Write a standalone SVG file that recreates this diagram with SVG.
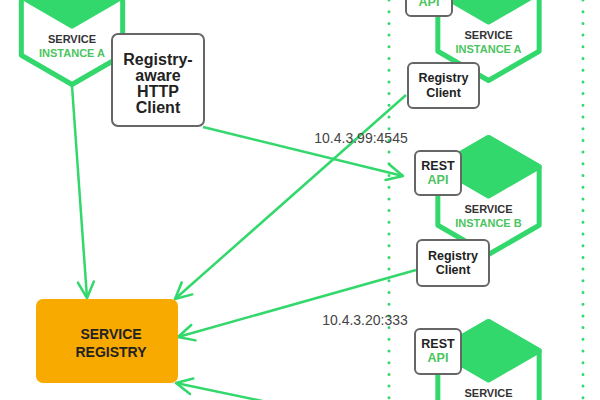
<svg xmlns="http://www.w3.org/2000/svg" width="600" height="400" viewBox="0 0 600 400">
<style>
.dot{stroke:#33d86c;stroke-width:3;stroke-linecap:round;stroke-dasharray:0 11.7;fill:none}
.hex{fill:#fff;stroke:#33d86c;stroke-width:5;stroke-linejoin:round}
.cap{fill:#33d86c;stroke:#33d86c;stroke-width:5;stroke-linejoin:round}
.box{fill:#fff;stroke:#666;stroke-width:2}
.con{stroke:#33d86c;stroke-width:2.5;fill:none;marker-end:url(#arr)}
.hs{font-family:"Liberation Sans",Arial,sans-serif;font-weight:bold;font-size:11px;fill:#333;text-anchor:middle}
.bt{font-family:"Liberation Sans",Arial,sans-serif;font-weight:bold;fill:#222;text-anchor:middle}
.hs.hg,.bt.hg{fill:#4cc45f}
.lbl{font-family:"Liberation Sans",Arial,sans-serif;font-size:14px;fill:#444;text-anchor:middle}
</style>
<defs>
<marker id="arr" markerUnits="userSpaceOnUse" viewBox="-20 -12 24 24" refX="0" refY="0" markerWidth="24" markerHeight="24" orient="auto">
<path d="M-16,-8 L0,0 L-16,8" fill="none" stroke="#33d86c" stroke-width="2.5" stroke-linecap="round" stroke-linejoin="round"/>
</marker>
<g id="hexshape">
<polygon class="hex" points="0,-58.5 50.66,-29.25 50.66,29.25 0,58.5 -50.66,29.25 -50.66,-29.25"/>
<polygon class="cap" points="-50.66,-29.25 0,-58.5 50.66,-29.25 0,0"/>
</g>
</defs>
<rect width="600" height="400" fill="#fff"/>
<g id="zones">
<line class="dot" x1="389" y1="0" x2="389" y2="400"/>
<line class="dot" x1="583" y1="0" x2="583" y2="400"/>
</g>
<g id="connectors">
<line class="con" x1="72" y1="86" x2="87" y2="298"/>
<line class="con" x1="406" y1="95" x2="175" y2="299"/>
<line class="con" x1="203" y1="127" x2="403" y2="176"/>
<line class="con" x1="416" y1="270" x2="178" y2="337"/>
<line class="con" x1="416" y1="433" x2="176" y2="383"/>
<text class="lbl" x="361" y="143">10.4.3.99:4545</text>
<text class="lbl" x="365" y="325">10.4.3.20:333</text>
</g>
<g id="service-instance-a-left">
<use href="#hexshape" transform="translate(72,26)"/>
<text class="hs" x="72" y="43">SERVICE</text>
<text class="hs hg" x="72" y="57">INSTANCE A</text>
</g>
<g id="registry-aware-http-client">
<rect class="box" x="112" y="34" width="92" height="92" rx="6"/>
<text class="bt" font-size="16" x="158" y="65">Registry-</text>
<text class="bt" font-size="16" x="158" y="81">aware</text>
<text class="bt" font-size="16" x="158" y="97">HTTP</text>
<text class="bt" font-size="16" x="158" y="113">Client</text>
</g>
<g id="service-registry">
<rect x="36" y="299" width="142" height="84" rx="7" fill="#f9aa00"/>
<text class="bt" font-size="14" x="111" y="339" fill="#333">SERVICE</text>
<text class="bt" font-size="14" x="111" y="357" fill="#333">REGISTRY</text>
</g>
<g id="service-instance-a">
<use href="#hexshape" transform="translate(488.5,22)"/>
<text class="hs" x="488.5" y="39">SERVICE</text>
<text class="hs hg" x="488.5" y="53">INSTANCE A</text>
<rect class="box" x="406" y="-30" width="46" height="46" rx="5"/>
<text class="bt" font-size="12.5" x="429" y="-9">REST</text>
<text class="bt hg" font-size="12.5" x="429" y="6">API</text>
<rect class="box" x="408" y="63" width="71" height="45" rx="5"/>
<text class="bt" font-size="12.5" x="443.5" y="82">Registry</text>
<text class="bt" font-size="12.5" x="443.5" y="96.5">Client</text>
</g>
<g id="service-instance-b">
<use href="#hexshape" transform="translate(488.5,196)"/>
<text class="hs" x="488.5" y="213">SERVICE</text>
<text class="hs hg" x="488.5" y="227">INSTANCE B</text>
<rect class="box" x="415" y="151" width="46" height="44" rx="5"/>
<text class="bt" font-size="12.5" x="438" y="170">REST</text>
<text class="bt hg" font-size="12.5" x="438" y="184">API</text>
<rect class="box" x="417" y="240" width="72" height="46" rx="5"/>
<text class="bt" font-size="12.5" x="453" y="259.5">Registry</text>
<text class="bt" font-size="12.5" x="453" y="274">Client</text>
</g>
<g id="service-instance-c">
<use href="#hexshape" transform="translate(488.5,380)"/>
<text class="hs" x="488.5" y="397">SERVICE</text>
<rect class="box" x="415" y="329" width="46" height="45" rx="5"/>
<text class="bt" font-size="12.5" x="438" y="348">REST</text>
<text class="bt hg" font-size="12.5" x="438" y="362">API</text>
</g>
</svg>
